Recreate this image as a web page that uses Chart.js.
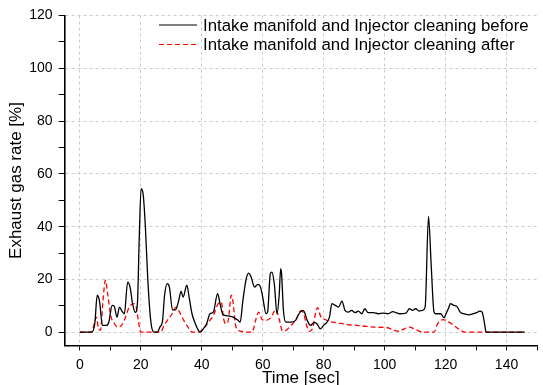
<!DOCTYPE html>
<html>
<head>
<meta charset="utf-8">
<script src="https://cdn.jsdelivr.net/npm/chart.js@4"></script>
<style>
  html, body { margin: 0; padding: 0; background: #fff; }
  #wrap { width: 543px; height: 385px; position: relative; }
</style>
</head>
<body>
<div id="wrap"><canvas id="myChart"></canvas></div>
<script>
// series labels
const seriesNames = ['Intake manifold and Injector cleaning before', 'Intake manifold and Injector cleaning after'];

// before cleaning (time [sec], exhaust gas rate [%])
const timeBefore = [0, 3.8, 4.9, 5.7, 6.5, 7.4, 8.7, 9.5, 10.6, 11.3, 12.2, 13, 13.8, 14.6, 15.7, 16.5, 17.3, 18.2, 18.9, 19.5, 20.1, 20.8, 21.5, 22.3, 23.3, 24.3, 25.4, 26.3, 27.1, 27.8, 28.7, 29.4, 30.4, 31.4, 32.4, 33.2, 33.9, 35.1, 35.9, 36.8, 37.8, 38.9, 39.5, 40.5, 41.6, 42.7, 43.8, 45.2, 46, 47, 48.7, 50.3, 51.9, 52.6, 53.5, 54.6, 55.4, 56.2, 57.3, 58.4, 59.3, 60, 61.1, 61.6, 62.5, 63, 63.8, 64.7, 65.4, 65.9, 66.2, 66.8, 67.6, 69.2, 70.8, 71.9, 73, 73.7, 74.6, 75.7, 76.8, 77.8, 78.9, 80, 81.1, 81.9, 82.7, 83.8, 84.9, 86, 87, 88.1, 89.2, 90.3, 91.4, 92.5, 93.5, 94.6, 96.3, 97.9, 99.5, 101.1, 102.7, 103.8, 104.9, 107, 108.1, 109.2, 110.2, 111.3, 112.4, 113.3, 114.4, 115.3, 116.2, 116.7, 118.4, 119.5, 120, 121.1, 121.6, 122.7, 123.7, 124.8, 125.9, 127.5, 129.1, 130.2, 131.2, 132, 132.8, 133.3, 146];
const rateBefore = [0, 0, 3.2, 14, 11.4, 2.6, 2.6, 3.8, 10.2, 9.8, 5.7, 9.5, 8, 7, 19, 17, 10.8, 7.5, 11, 36, 54.4, 52, 40, 20, 4, 0, 0, 2, 4, 14, 18.4, 17, 8.5, 8.5, 11.8, 15.5, 13.3, 17.8, 13, 7, 3.5, 0.7, 0, 1.3, 3.2, 7, 7.6, 14.6, 10.8, 6.6, 6.2, 5.7, 4.5, 3.8, 12, 20.3, 22.4, 20.9, 17.1, 18.1, 17, 13.3, 7, 7.6, 22.2, 22.8, 18.4, 7, 14, 24.1, 22, 8.3, 3.8, 3.8, 4.5, 7, 8.3, 7.6, 4.5, 2.6, 3.6, 3.2, 1.3, 2.6, 3.8, 5.7, 10.8, 10.2, 9.5, 11.8, 8.3, 7.6, 8.3, 7.4, 8, 7, 8.9, 7.4, 7.4, 7, 7.2, 7, 7.8, 7.4, 7, 7.2, 8.9, 8.3, 8.9, 8, 8.3, 9.5, 43.9, 25, 7.6, 7, 7, 5.5, 6.6, 9.5, 10.8, 10.2, 9.8, 7.6, 7, 6.6, 7, 7.4, 8, 7.6, 3.2, 0, 0];

// after cleaning
const timeAfter = [0, 3.8, 4.9, 5.4, 6.2, 6.8, 7.6, 8.4, 9.2, 10.2, 11.2, 12.3, 13, 14.6, 16.2, 17.8, 18.4, 19.2, 20, 26.5, 27.6, 28.7, 30.3, 31.6, 33, 34.1, 35.5, 36.8, 38.9, 40.5, 42.2, 43.8, 45.4, 46.4, 47.2, 47.8, 48.7, 49.7, 50.3, 51, 52.4, 56.5, 57.8, 58.7, 59.8, 61.1, 62.7, 64.3, 65.4, 66.5, 67.6, 69.2, 70.8, 72.4, 73.3, 74.3, 75.4, 76.5, 77.3, 78, 79, 80.5, 82.1, 84.3, 87.6, 90.8, 94, 97.3, 100.5, 102.1, 103.8, 104.9, 106, 108.1, 109.7, 111.3, 112.9, 116.2, 117.3, 119.2, 121.1, 122.7, 124.3, 126.4, 146];
const rateAfter = [0, 0, 4, 5.7, 1, 0.8, 12, 19.7, 14, 6, 3.5, 2, 2, 4.5, 9.5, 10.8, 10, 4.5, 0, 0, 2.5, 4.5, 7, 9.5, 7, 4.5, 1.9, 0, 0, 1.3, 3.8, 6.4, 10.8, 11.4, 5, 3.2, 4.5, 14, 11, 3.2, 0.5, 0, 5, 7.6, 4.8, 4.5, 5.5, 8.6, 5, 0.5, 0.7, 2.5, 4.5, 8, 7.5, 3, 0.3, 2, 7, 9.3, 6, 4.8, 4, 3.6, 2.9, 2.6, 2.2, 1.9, 1.8, 1.2, 0.5, 0.3, 1, 1.9, 1.3, 0.4, 0, 0, 3, 4.8, 3.8, 2.6, 1.2, 0, 0];

// axis ticks
const xTicks = [0, 20, 40, 60, 80, 100, 120, 140];
const yTicks = [0, 20, 40, 60, 80, 100, 120];

const fontFam = '"Liberation Sans", Arial, sans-serif';

function toPoints(xs, ys) {
  let pts = [];
  for (let i = 0; i < xs.length; i++) {
    pts.push({x: xs[i], y: ys[i]});
  }
  return pts;
}

// legend drawn inside the plot, top right
const insideLegend = {
  id: 'insideLegend',
  afterDraw(chart) {
    const c = chart.ctx;
    const rows = [25, 44.5];
    c.save();
    chart.data.datasets.forEach((ds, i) => {
      c.beginPath();
      c.strokeStyle = ds.borderColor;
      c.lineWidth = 1.2;
      c.setLineDash(ds.borderDash || []);
      c.moveTo(159, rows[i]);
      c.lineTo(197, rows[i]);
      c.stroke();
      c.setLineDash([]);
      c.fillStyle = '#000';
      c.font = '16.8px ' + fontFam;
      c.textBaseline = 'middle';
      c.textAlign = 'left';
      c.fillText(ds.label, 203, rows[i] + 1);
    });
    c.restore();
  }
};

const ctx = document.getElementById('myChart');

new Chart(ctx, {
  type: 'line',
  data: {
    datasets: [{
      label: seriesNames[0],
      data: toPoints(timeBefore, rateBefore),
      borderColor: '#000000',
      borderWidth: 1.3,
      pointRadius: 0,
      cubicInterpolationMode: 'monotone',
      fill: false
    }, {
      label: seriesNames[1],
      data: toPoints(timeAfter, rateAfter),
      borderColor: '#ff0000',
      borderWidth: 1.3,
      borderDash: [5, 3],
      pointRadius: 0,
      cubicInterpolationMode: 'monotone',
      fill: false
    }]
  },
  options: {
    responsive: true,
    maintainAspectRatio: false,
    animation: false,
    layout: { padding: { left: 0, right: 0, top: 15.6, bottom: 0 } },
    plugins: {
      legend: { display: false },
      tooltip: { enabled: false }
    },
    scales: {
      x: {
        type: 'linear',
        min: -5,
        max: 150,
        afterFit: (s) => { s.height = 39.6; },
        border: { display: true, color: '#000', width: 1.6, dash: [3, 3] },
        grid: {
          color: (c) => xTicks.includes(c.tick.value) ? '#cccccc' : 'rgba(0,0,0,0)',
          tickColor: '#000',
          tickLength: 5,
          lineWidth: 1
        },
        ticks: {
          stepSize: 10,
          includeBounds: false,
          autoSkip: false,
          maxRotation: 0,
          color: '#000',
          padding: 6,
          font: { family: fontFam, size: 14 },
          callback: (v) => xTicks.includes(v) ? String(v) : ''
        },
        title: {
          display: true,
          text: 'Time [sec]',
          color: '#000',
          font: { family: fontFam, size: 17, lineHeight: 0.8 },
          padding: 0
        }
      },
      y: {
        type: 'linear',
        min: -5,
        max: 120,
        afterFit: (s) => { s.width = 64.6; },
        border: { display: true, color: '#000', width: 1.6, dash: [3, 3] },
        grid: {
          color: (c) => yTicks.includes(c.tick.value) ? '#cccccc' : 'rgba(0,0,0,0)',
          tickColor: '#000',
          tickLength: 6,
          lineWidth: 1
        },
        ticks: {
          stepSize: 10,
          includeBounds: false,
          autoSkip: false,
          color: '#000',
          padding: 6,
          font: { family: fontFam, size: 14 },
          callback: (v) => yTicks.includes(v) ? String(v) : ''
        },
        title: {
          display: true,
          text: 'Exhaust gas rate [%]',
          color: '#000',
          font: { family: fontFam, size: 17, lineHeight: 1.2 },
          padding: { top: 6, bottom: 0 }
        }
      }
    }
  },
  plugins: [insideLegend]
});
</script>
</body>
</html>
